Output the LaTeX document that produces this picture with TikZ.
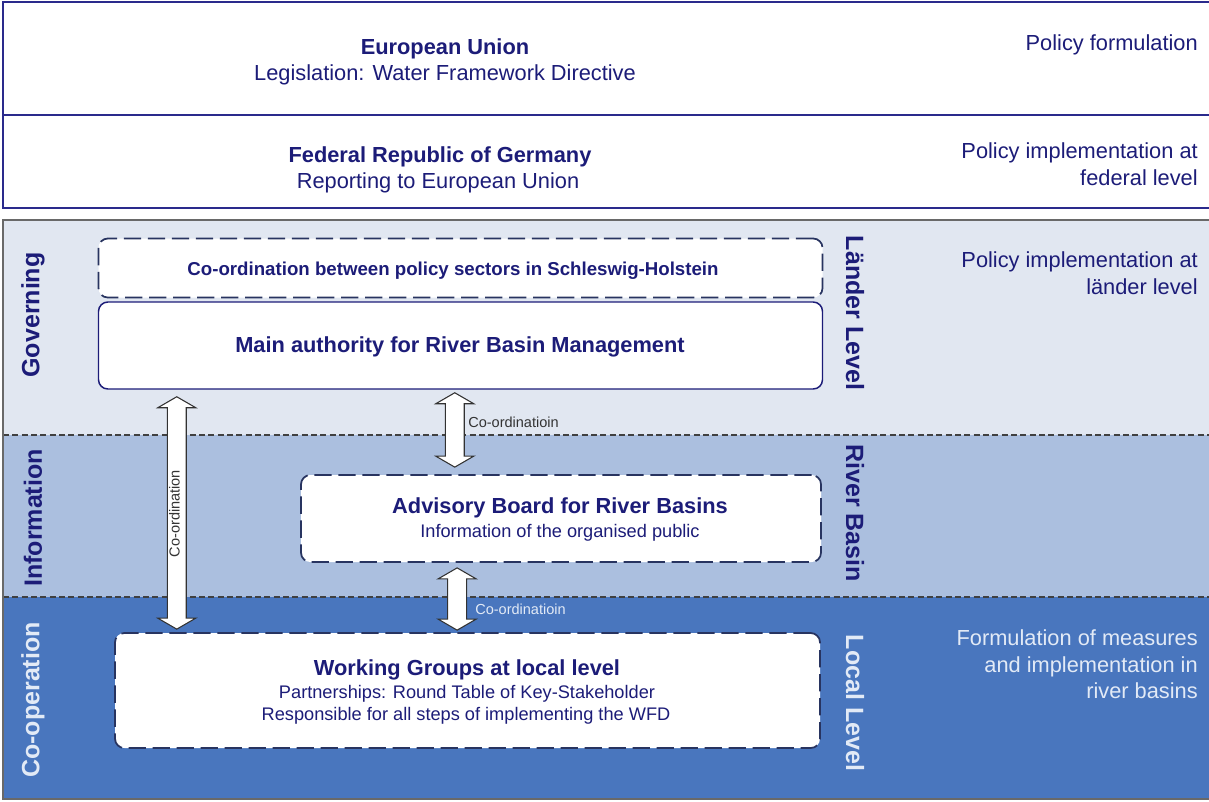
\documentclass[tikz,border=0pt]{standalone}
\usepackage{fontspec}
\setmainfont{Liberation Sans}
\usetikzlibrary{calc}
\definecolor{navy}{RGB}{28,28,120}
\definecolor{topline}{RGB}{42,42,140}
\definecolor{bandA}{RGB}{225,231,241}
\definecolor{bandB}{RGB}{171,191,223}
\definecolor{bandC}{RGB}{73,118,190}
\definecolor{lighttext}{RGB}{226,234,246}
\definecolor{panelgray}{RGB}{105,105,105}
\definecolor{dashdark}{RGB}{40,52,96}
\definecolor{arrowline}{RGB}{50,50,50}
\tikzset{
  px/.style={x=0.75pt,y=-0.75pt},
  topbox/.style={draw=topline,line width=1.5pt,fill=white},
  solidbox/.style={draw=navy,line width=1.1pt,fill=white,rounded corners=7pt},
  dashbox/.style={draw=dashdark,line width=1.3pt,fill=white,rounded corners=7pt,dash pattern=on 13pt off 5pt},
  sep/.style={draw=black!75,line width=0.8pt,dash pattern=on 4.5pt off 2.5pt},
  blockarrow/.style={draw=arrowline,line width=0.8pt,fill=white,line join=miter},
  down/.style={yshift=-1.9pt},
  ttl/.style={down,inner sep=0pt,text=navy,font=\fontsize{16.35}{19.6}\selectfont\bfseries},
  sub/.style={down,inner sep=0pt,text=navy,font=\fontsize{16.35}{19.6}\selectfont},
  small/.style={down,inner sep=0pt,text=navy,font=\fontsize{13.65}{16.4}\selectfont},
  side/.style={down,inner sep=0pt,text=navy,align=right,anchor=east,font=\fontsize{16.35}{19.8}\selectfont},
  vlab/.style={inner sep=0pt,text=navy,font=\fontsize{18.75}{22}\selectfont\bfseries},
  alab/.style={down,inner sep=0pt,text=black!80,font=\fontsize{10.9}{13}\selectfont},
}
\newcommand\dblarrow[2]{%
  \draw[blockarrow] let \p1=#1, \p2=#2 in
   (\x1,\y1) -- (\x1+14.25pt,\y1-8.25pt) -- (\x1+7.1pt,\y1-8.25pt)
   -- (\x1+7.1pt,\y2+8.25pt) -- (\x1+14.25pt,\y2+8.25pt) -- (\x1,\y2)
   -- (\x1-14.25pt,\y2+8.25pt) -- (\x1-7.1pt,\y2+8.25pt)
   -- (\x1-7.1pt,\y1-8.25pt) -- (\x1-14.25pt,\y1-8.25pt) -- cycle;}
\begin{document}
\begin{tikzpicture}[px]
\useasboundingbox (0,0) rectangle (1209,801);
\fill[white] (0,0) rectangle (1209,801);
% top boxes
\draw[topbox] (3,2) rectangle (1215,115);
\draw[topbox] (3,115) rectangle (1215,208);
\node[ttl] (eut) at (445,46) {European Union};
\node[sub] (eus) at (445,72) {Legislation: Water Framework Directive};
\node[side] (eur) at (1198,42) {Policy formulation};
\node[ttl] (frgt) at (440,154) {Federal Republic of Germany};
\node[sub] (frgs) at (438,180) {Reporting to European Union};
\node[side] (frgr) at (1198,161.5) {Policy implementation at\\federal level};
% bands
\fill[bandA] (3,220) rectangle (1215,435);
\fill[bandB] (3,435) rectangle (1215,597);
\fill[bandC] (3,597) rectangle (1215,799);
\draw[sep] (3,435) -- (1215,435);
\draw[sep] (3,597) -- (1215,597);
\draw[sep] (3,435) -- (3,597);
\draw[panelgray,line width=1.5pt] (1215,220) -- (3,220) -- (3,799) -- (1215,799);
% side labels
\node[vlab,rotate=90] (gov) at (33,315) {Governing};
\node[vlab,rotate=90] (inf) at (33,518) {Information};
\node[vlab,rotate=90,text=lighttext] (coop) at (33,700) {Co-operation};
\node[vlab,rotate=-90] (lae) at (855,313) {Länder Level};
\node[vlab,rotate=-90] (rb) at (855,513) {River Basin};
\node[vlab,rotate=-90,text=lighttext] (ll) at (855,703) {Local Level};
\node[side] (laer) at (1198,270.5) {Policy implementation at\\länder level};
\node[side,text=lighttext] (locr) at (1198,662) {Formulation of measures\\and implementation in\\river basins};
% boxes
\node[dashbox,minimum width=543pt,minimum height=44.25pt] (coord) at (460.5,268) {};
\node[down,inner sep=0pt,text=navy,font=\fontsize{14}{16.8}\selectfont\bfseries] (coordt) at (453,268) {Co-ordination between policy sectors in Schleswig-Holstein};
\node[solidbox,minimum width=543pt,minimum height=65.25pt] (main) at (460.5,345.5) {};
\node[ttl] (maint) at (460,344) {Main authority for River Basin Management};
\node[dashbox,minimum width=390pt,minimum height=65.25pt] (adv) at (561,518.5) {};
\node[ttl] (advt) at (560,505) {Advisory Board for River Basins};
\node[small] (advs) at (560,530) {Information of the organised public};
\node[dashbox,minimum width=528.75pt,minimum height=86.25pt] (work) at (467.5,690.5) {};
\node[ttl] (workt) at (467,667) {Working Groups at local level};
\node[small] (works1) at (467,691) {Partnerships: Round Table of Key-Stakeholder};
\node[small] (works2) at (466,713) {Responsible for all steps of implementing the WFD};
% arrows
\coordinate (a1t) at ($(main.south west)+(79,7)$);
\coordinate (a1b) at ($(work.north west)+(62,-3)$);
\coordinate (a2t) at ($(main.south west)+(357,3)$);
\coordinate (a2b) at ($(adv.north west)+(155,-7)$);
\coordinate (a3t) at ($(adv.south west)+(157,5)$);
\coordinate (a3b) at ($(work.north west)+(342,-2)$);
\dblarrow{(a1t)}{(a1b)}
\dblarrow{(a2t)}{(a2b)}
\dblarrow{(a3t)}{(a3b)}
\node[alab,rotate=90,yshift=1.9pt] (a1l) at (177,511) {Co-ordination};
\node[alab,anchor=west] (a2l) at (468,420) {Co-ordinatioin};
\node[alab,anchor=west,text=lighttext] (a3l) at (475,607) {Co-ordinatioin};
\end{tikzpicture}
\end{document}
